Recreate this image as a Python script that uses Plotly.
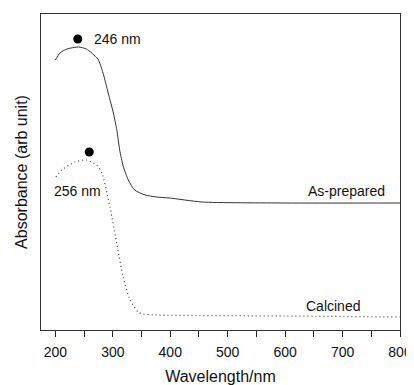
import plotly.graph_objects as go

# As-prepared spectrum (wavelength nm, absorbance arb.)
asprep_nm = [200, 208, 220, 240, 254, 274, 283, 292, 301, 307, 312, 318, 327, 338, 356, 376, 399, 455, 600, 800]
asprep_abs = [270, 277, 281, 283, 281, 271, 257, 237, 217, 200, 180, 164, 150, 140, 135, 133, 132, 128, 127, 127]

# Calcined spectrum
calc_nm = [201, 211, 234, 254, 272, 281, 295, 308, 318, 330, 344, 353, 376, 600, 800]
calc_abs = [153, 160, 168, 170, 165, 157, 123, 83, 53, 30, 18, 16, 15, 14, 13]

# Peak markers
peak_nm = [239, 259]
peak_abs = [291, 178]

tick_vals = [200, 250, 300, 350, 400, 450, 500, 550, 600, 650, 700, 750, 800]
tick_text = ["200", "", "300", "", "400", "", "500", "", "600", "", "700", "", "800"]

FONT = "Liberation Sans, Arial, sans-serif"

fig = go.Figure()
fig.add_trace(go.Scatter(x=asprep_nm, y=asprep_abs, mode="lines",
                         line=dict(color="#333333", width=1, shape="spline", smoothing=0.6),
                         showlegend=False, hoverinfo="skip"))
fig.add_trace(go.Scatter(x=calc_nm, y=calc_abs, mode="lines",
                         line=dict(color="#444444", width=1.2, dash="1px,3px", shape="spline", smoothing=0.6),
                         showlegend=False, hoverinfo="skip"))
fig.add_trace(go.Scatter(x=peak_nm, y=peak_abs, mode="markers",
                         marker=dict(color="black", size=9),
                         showlegend=False, hoverinfo="skip"))

ann_font = dict(family=FONT, size=14, color="#111111")
fig.add_annotation(x=263, y=291, text="246 nm", showarrow=False, xanchor="left", yanchor="middle", font=ann_font)
fig.add_annotation(x=195, y=139, text="256 nm", showarrow=False, xanchor="left", yanchor="middle", font=ann_font)
fig.add_annotation(x=777, y=139, text="As-prepared", showarrow=False, xanchor="right", yanchor="middle", font=ann_font)
fig.add_annotation(x=633, y=24, text="Calcined", showarrow=False, xanchor="left", yanchor="middle", font=ann_font)

fig.update_layout(
    width=406, height=377,
    margin=dict(l=33, r=14, t=6, b=55),
    paper_bgcolor="white", plot_bgcolor="white",
    font=dict(family=FONT, color="#111111"),
)
fig.update_xaxes(range=[175, 800], tickvals=tick_vals, ticktext=tick_text, automargin=False,
                 ticks="outside", ticklen=6, tickcolor="#222222", tickwidth=1,
                 ticklabelstandoff=3,
                 showline=True, linecolor="#333333", linewidth=1, mirror=True,
                 showgrid=False, zeroline=False,
                 tickfont=dict(size=14, family=FONT),
                 title=dict(text="Wavelength/nm", font=dict(size=16, family=FONT), standoff=12))
fig.update_yaxes(range=[0, 316], showticklabels=False, ticks="", automargin=False,
                 showline=True, linecolor="#333333", linewidth=1, mirror=True,
                 showgrid=False, zeroline=False,
                 title=dict(text="Absorbance (arb unit)", font=dict(size=16, family=FONT), standoff=8))

fig.write_html("out.html")
